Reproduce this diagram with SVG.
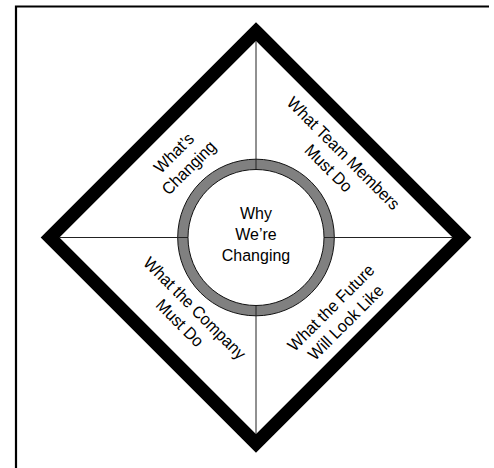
<svg xmlns="http://www.w3.org/2000/svg" width="494" height="468" viewBox="0 0 494 468">
<style>
.lbl{font-family:"Liberation Sans",Arial,sans-serif;font-size:17px;fill:#000;text-anchor:middle}
.div{stroke:#222;stroke-width:1;fill:none}
</style>
<rect width="494" height="468" fill="#fff"/>
<path d="M16,468 V6.5 H489" fill="none" stroke="#000" stroke-width="2.2"/>
<g id="diamond">
<polygon points="256,31.5 462,237.5 256,443.5 50,237.5" fill="#fff" stroke="#000" stroke-width="13.2" stroke-linejoin="miter"/>
</g>
<g id="ring">
<circle cx="256" cy="237.5" r="78.3" fill="#808080" stroke="#111" stroke-width="1"/>
</g>
<g id="connectors">
<line class="div" x1="256" y1="41" x2="256" y2="434"/>
<line class="div" x1="59" y1="237.5" x2="453" y2="237.5"/>
</g>
<g id="center">
<circle cx="256" cy="237.5" r="68" fill="#fff" stroke="#111" stroke-width="1"/>
<g transform="translate(256,0) scale(0.94,1)">
<text class="lbl" x="0" y="219.5">Why</text>
<text class="lbl" x="0" y="240.5">We’re</text>
<text class="lbl" x="0" y="261.5">Changing</text>
</g>
</g>
<g id="whats-changing" transform="translate(178,157) rotate(-45) scale(0.94,1)">
<text class="lbl" x="0" y="0">What’s</text>
<text class="lbl" x="0" y="21">Changing</text>
</g>
<g id="team-members" transform="translate(339.3,157.3) rotate(45) scale(0.94,1)">
<text class="lbl" x="0" y="0">What Team Members</text>
<text class="lbl" x="0" y="21">Must Do</text>
</g>
<g id="company" transform="translate(190.6,312.2) rotate(45) scale(0.94,1)">
<text class="lbl" x="0" y="0">What the Company</text>
<text class="lbl" x="0" y="21">Must Do</text>
</g>
<g id="future" transform="translate(335,311.7) rotate(-45) scale(0.94,1)">
<text class="lbl" x="0" y="0">What the Future</text>
<text class="lbl" x="0" y="21">Will Look Like</text>
</g>
</svg>
